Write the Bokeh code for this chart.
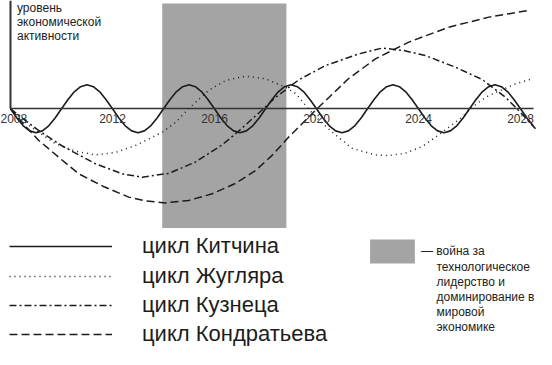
from bokeh.plotting import figure
from bokeh.models import (LinearAxis, FixedTicker, Legend, LegendItem, Label, Range1d)
from bokeh.embed import file_html
from bokeh.resources import INLINE

# ---------------- data ----------------
tick_years = [2008, 2012, 2016, 2020, 2024, 2028]
tick_labels = ["2008", "2012", "2016", "2020", "2024", "2028"]

# Kitchin cycle, sampled every quarter year from 2008
kitchin_values = [
    0, -0.38, -0.71, -0.92, -1, -0.92, -0.71, -0.38, 0, 0.38, 0.71, 0.92, 1, 0.92, 0.71, 0.38,
    0, -0.38, -0.71, -0.92, -1, -0.92, -0.71, -0.38, 0, 0.38, 0.71, 0.92, 1, 0.92, 0.71, 0.38,
    0, -0.38, -0.71, -0.92, -1, -0.92, -0.71, -0.38, 0, 0.38, 0.71, 0.92, 1, 0.92, 0.71, 0.38,
    0, -0.38, -0.71, -0.92, -1, -0.92, -0.71, -0.38, 0, 0.38, 0.71, 0.92, 1, 0.92, 0.71, 0.38,
    0, -0.38, -0.71, -0.92, -1, -0.92, -0.71, -0.38, 0, 0.38, 0.71, 0.92, 1, 0.92, 0.71, 0.38,
    0, -0.38, -0.71,
]
kitchin_years = [2008 + 0.25 * i for i in range(len(kitchin_values))]

juglar_years = [2008.00, 2008.71, 2009.10, 2009.76, 2010.55, 2011.33, 2012.12, 2012.90,
                2013.95, 2014.47, 2014.98, 2015.76, 2016.43, 2017.22, 2018.00, 2018.78,
                2019.18, 2019.69, 2019.96, 2020.62, 2021.40, 2022.31, 2022.82, 2023.49,
                2024.15, 2024.67, 2025.18, 2025.71, 2026.11, 2026.63, 2027.14, 2027.80, 2028.46]
juglar_values = [0, -0.68, -0.98, -1.45, -1.77, -1.92, -1.82, -1.53,
                 -0.98, -0.57, 0, 0.76, 1.18, 1.36, 1.25, 0.90,
                 0.64, 0, -0.33, -0.98, -1.65, -1.92, -1.95, -1.85,
                 -1.57, -1.18, -0.77, -0.35, 0.07, 0.48, 0.73, 1.04, 1.25]

kuznets_years = [2008.00, 2008.59, 2009.10, 2010.03, 2011.33, 2012.38, 2013.16, 2014.21,
                 2015.25, 2016.30, 2016.82, 2017.92, 2018.39, 2019.31, 2020.35, 2021.66,
                 2022.58, 2023.41, 2024.27, 2025.45, 2026.50, 2027.41, 2027.93, 2028.59]
kuznets_values = [0, -0.49, -0.90, -1.55, -2.29, -2.71, -2.85, -2.69,
                  -2.22, -1.50, -1.05, 0, 0.47, 1.21, 1.80, 2.29,
                  2.53, 2.43, 2.22, 1.73, 1.22, 0.48, -0.07, -0.83]

kondratiev_years = [2008.00, 2008.50, 2009.11, 2009.89, 2010.68, 2011.65, 2012.64, 2013.29,
                    2014.08, 2014.98, 2015.91, 2016.82, 2017.61, 2018.25, 2018.91, 2020.02,
                    2021.25, 2022.31, 2023.62, 2025.19, 2026.76, 2028.33]
kondratiev_values = [0, -0.62, -1.32, -2.02, -2.71, -3.24, -3.68, -3.84,
                     -3.92, -3.82, -3.54, -3.11, -2.57, -1.95, -1.18, 0,
                     1.25, 2.08, 2.78, 3.40, 3.82, 4.10]

war_start, war_end = 2013.95, 2018.82
war_bottom, war_top = -4.97, 4.39

series_labels = ["цикл Китчина", "цикл Жугляра", "цикл Кузнеца", "цикл Кондратьева"]
war_label_lines = ["— война за", "технологическое", "лидерство и",
                   "доминирование в", "мировой", "экономике"]
y_label_lines = ["уровень", "экономической", "активности"]

# ---------------- layout ----------------
W, H = 536, 349
PX_PER_YEAR = 25.5
PX_PER_UNIT = 24.0
ORIGIN_X = 10.0     # canvas px of year 2008
ORIGIN_Y = 108.3    # canvas px (from top) of the zero line

x_start = 2008 - ORIGIN_X / PX_PER_YEAR
x_end = x_start + W / PX_PER_YEAR
y_end = ORIGIN_Y / PX_PER_UNIT
y_start = y_end - H / PX_PER_UNIT

FONT = "Liberation Sans"
INK = "#1c1c1c"

p = figure(width=W, height=H, x_range=Range1d(x_start, x_end), y_range=Range1d(y_start, y_end),
           output_backend="svg", toolbar_location=None,
           x_axis_location=None, y_axis_location=None, min_border=0)
p.outline_line_color = None
p.grid.visible = False
p.background_fill_color = "white"

war = p.quad(left=[war_start], right=[war_end], bottom=[war_bottom], top=[war_top],
             fill_color="#a5a4a5", line_color=None)

r_k = p.line(kitchin_years, kitchin_values, line_color=INK, line_width=1.6, line_join="round")
r_j = p.line(juglar_years, juglar_values, line_color=INK, line_width=1.5, line_dash="1 4",
             line_join="round")
r_z = p.line(kuznets_years, kuznets_values, line_color=INK, line_width=1.5, line_dash="7 3 2 3",
             line_join="round")
r_d = p.line(kondratiev_years, kondratiev_values, line_color=INK, line_width=1.5, line_dash="8 4",
             line_join="round")

xaxis = LinearAxis(fixed_location=0, ticker=FixedTicker(ticks=tick_years),
                   major_label_overrides={y: l for y, l in zip(tick_years, tick_labels)},
                   bounds=(2008, 2028.5), axis_line_color="#333333", axis_line_width=1.5,
                   major_tick_in=0, major_tick_out=0, minor_tick_in=0, minor_tick_out=0,
                   major_label_standoff=5, major_label_text_font_size="12px",
                   major_label_text_font=FONT, major_label_text_color="#333333")
p.add_layout(xaxis, "below")

yaxis = LinearAxis(fixed_location=2008, ticker=FixedTicker(ticks=[]), bounds=(0, 5),
                   axis_line_color="#333333", axis_line_width=2,
                   major_tick_in=0, major_tick_out=0, minor_tick_in=0, minor_tick_out=0,
                   major_label_text_font_size="0px")
p.add_layout(yaxis, "left")


def add_legend(renderer, label, left, center_y, glyph_w, glyph_h, standoff, size, color):
    lg = Legend(items=[LegendItem(label=label, renderers=[renderer])],
                location=(left, H - center_y - glyph_h / 2.0),
                glyph_width=glyph_w, glyph_height=glyph_h, label_height=glyph_h,
                label_standoff=standoff, padding=0, margin=0, spacing=0,
                border_line_color=None, background_fill_alpha=0,
                label_text_font=FONT, label_text_font_size=size, label_text_color=color)
    p.add_layout(lg)


row_centers = [246, 275.5, 305, 334]
for r, lab, cy in zip([r_k, r_j, r_z, r_d], series_labels, row_centers):
    add_legend(r, lab, 9, cy, 103, 28, 30, "22px", INK)

add_legend(war, war_label_lines[0], 364, 250.5, 56, 30, 1, "12px", "#222222")

for i, line in enumerate(war_label_lines[1:]):
    p.add_layout(Label(x=436, y=H - (266 + 15.2 * i), x_units="screen", y_units="screen",
                       text=line, text_font=FONT, text_font_size="12px",
                       text_color="#222222", text_baseline="middle", text_align="left"))

for i, line in enumerate(y_label_lines):
    p.add_layout(Label(x=16.5, y=H - (7 + 14.2 * i), x_units="screen", y_units="screen",
                       text=line, text_font=FONT, text_font_size="12px",
                       text_color="#222222", text_baseline="middle", text_align="left"))

with open("out.html", "w") as f:
    f.write(file_html(p, INLINE))
